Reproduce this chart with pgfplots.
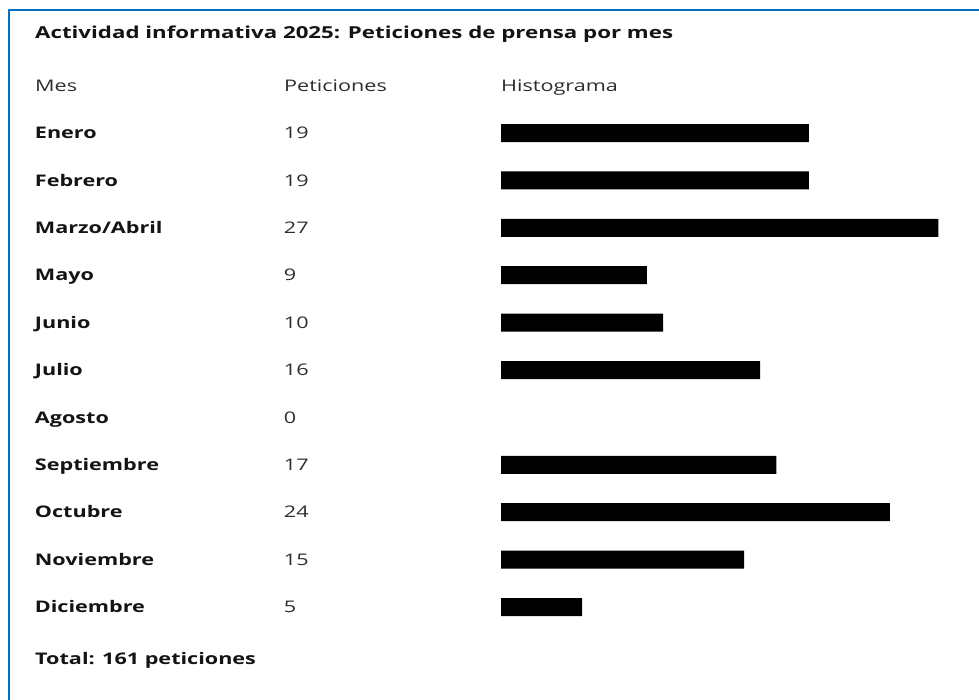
\documentclass[border=0pt]{standalone}
\usepackage{pgfplots}
\usepackage{pgfplotstable}
\pgfplotsset{compat=1.18}
\usepackage{fontspec}
\setmainfont{Open Sans}[FakeStretch=1.35]
\definecolor{frameblue}{RGB}{0,112,192}
\definecolor{txt}{RGB}{20,20,20}
\definecolor{hdr}{RGB}{45,45,45}

% mes: 0 = Enero ... 10 = Diciembre
\pgfplotstableread{
idx val
0 19
1 19
2 27
3 9
4 10
5 16
6 0
7 17
8 24
9 15
10 5
}\peticiones

\newcommand{\fila}[2]{\makebox[249pt][l]{\bfseries #1}{\color{hdr}#2}}

\begin{document}
\begin{tikzpicture}[x=1pt,y=1pt,font=\fontsize{16}{19}\selectfont,
  every node/.style={inner sep=0pt}]
\useasboundingbox (0,0) rectangle (979,-699);
\fill[white] (0,0) rectangle (979,-699);
\draw[frameblue,line width=2.5pt] (9,-710) -- (9,-10) -- (990,-10);

\node[anchor=base west,text=txt,font=\fontsize{16.5}{20}\selectfont\bfseries]
  at (35,-38) {Actividad informativa 2025: Peticiones de prensa por mes};
\node[anchor=base west,text=hdr] at (35,-91) {Mes};
\node[anchor=base west,text=hdr] at (284,-91) {Peticiones};
\node[anchor=base west,text=hdr] at (501,-91) {Histograma};
\node[anchor=base west,text=txt,font=\fontsize{16}{19}\selectfont\bfseries]
  at (35,-664) {Total: 161 peticiones};

\begin{axis}[
  at={(501pt,-109.3pt)}, anchor=north west,
  scale only axis, width=437.4pt, height=521.4pt,
  xmin=0, xmax=27, ymin=-0.5, ymax=10.5,
  y dir=reverse,
  xbar, bar width=18pt,
  axis line style={draw=none},
  tick style={draw=none},
  xtick=\empty,
  ytick={0,...,10},
  yticklabels={\fila{Enero}{19},\fila{Febrero}{19},\fila{Marzo/Abril}{27},
    \fila{Mayo}{9},\fila{Junio}{10},\fila{Julio}{16},\fila{Agosto}{0},
    \fila{Septiembre}{17},\fila{Octubre}{24},\fila{Noviembre}{15},
    \fila{Diciembre}{5}},
  yticklabel style={anchor=west, xshift=-462pt, text=txt, inner sep=0pt,
    text height=11.5pt, text depth=0pt, font=\fontsize{16}{19}\selectfont},
  clip=false,
]
\addplot[fill=black, draw=none, x filter/.expression={x==0 ? nan : x}]
  table[x=val, y=idx] {\peticiones};
\end{axis}
\end{tikzpicture}
\end{document}
